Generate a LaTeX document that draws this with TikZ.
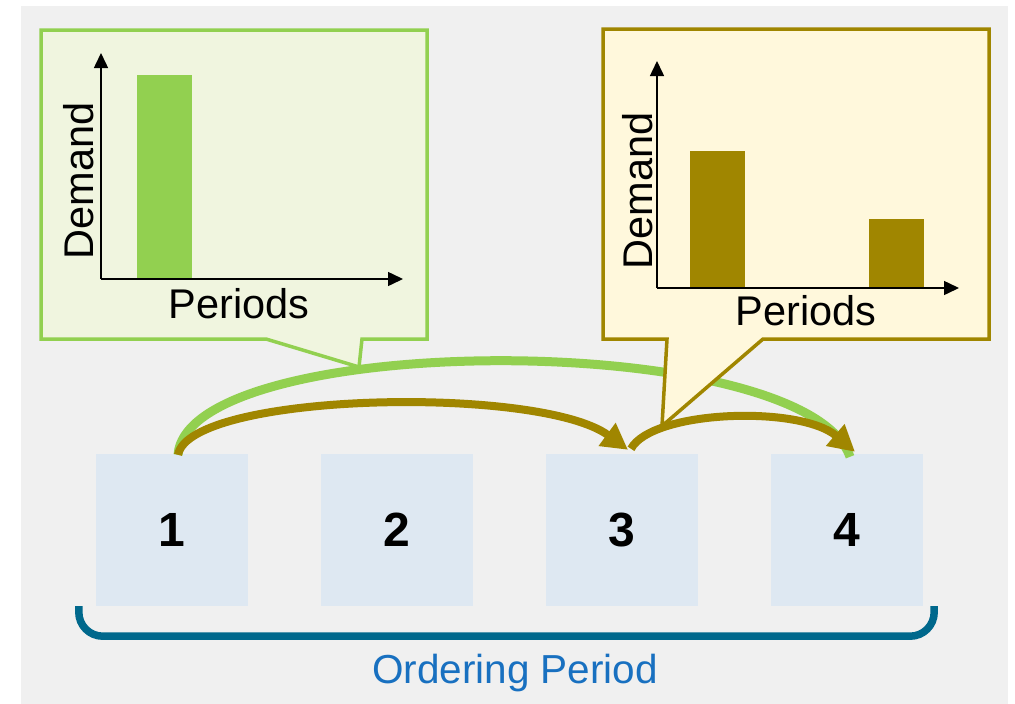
\documentclass[tikz,border=0pt]{standalone}
\usepackage{fontspec}
\setmainfont{Liberation Sans}
\usetikzlibrary{arrows.meta,calc}
\definecolor{bgc}{RGB}{240,240,240}
\definecolor{boxc}{RGB}{222,232,242}
\definecolor{grn}{RGB}{146,208,80}
\definecolor{grnfill}{RGB}{240,245,223}
\definecolor{olv}{RGB}{160,134,0}
\definecolor{ylwfill}{RGB}{255,248,220}
\definecolor{teal}{RGB}{0,104,140}
\definecolor{lblue}{RGB}{24,112,192}
\tikzset{
  pbox/.style={fill=boxc, minimum size=152pt, inner sep=0pt, font=\fontsize{48}{48}\selectfont\bfseries},
  gcall/.style={draw=grn, fill=grnfill, line width=3.5pt, line join=miter},
  ycall/.style={draw=olv, fill=ylwfill, line width=3.5pt, line join=miter},
  axisline/.style={line width=1.5pt, -{Triangle[length=15pt,width=14pt]}},
  lbl/.style={inner sep=0pt, font=\fontsize{41.5}{41.5}\selectfont},
  garc/.style={draw=grn, line width=9pt},
  oarc/.style={draw=olv, line width=8pt, -{Triangle[length=26pt,width=27pt]}},
  brk/.style={draw=teal, line width=7.5pt, rounded corners=24pt},
}
\begin{document}
\begin{tikzpicture}[x=1pt,y=-1pt]
\useasboundingbox (0,0) rectangle (1015,704);
\fill[bgc] (21,6) rectangle (1008,704);

% period boxes
\node[pbox] (b1) at (172,530) {1};
\node[pbox] (b2) at (397,530) {2};
\node[pbox] (b3) at (622,530) {3};
\node[pbox] (b4) at (847,530) {4};

% bracket and label
\coordinate (bl) at ($(b1.south west)+(-17,0)$);
\coordinate (br) at ($(b4.south east)+(11,0)$);
\draw[brk] (bl) -- ($(bl)+(0,30)$) -- ($(br)+(0,30)$) -- (br);
\node[inner sep=0pt, anchor=base, text=lblue, font=\fontsize{40.5}{40.5}\selectfont] (op) at (515,683) {Ordering Period};

% arc endpoints
\coordinate (s1) at ($(b1.north)+(6,1)$);
\coordinate (g4) at ($(b4.north)+(3,3)$);
\coordinate (e3) at ($(b3.north)+(6,-4)$);
\coordinate (s3) at ($(b3.north)+(9,-5)$);
\coordinate (e4) at ($(b4.north)+(8,-2)$);

% green arc (1 -> 4)
\draw[garc] (s1) .. controls (188,330) and (805,328) .. (g4);

% green callout
\draw[gcall] (41,30) -- (427,30) -- (427,339) -- (362,339) -- (359,367) -- (266,339) -- (41,339) -- cycle;
\coordinate (go) at (101,279);
\fill[grn] (137,75) rectangle (192,279);
\draw[axisline] (go) -- (101,53);
\draw[axisline] (go) -- (403,279);
\node[lbl, rotate=90] (gd) at (79,181) {Demand};
\node[lbl] (gp) at (239,304) {Periods};

% yellow callout
\draw[ycall] (603,29) -- (989,29) -- (989,339) -- (763,339) -- (662,426) -- (667,339) -- (603,339) -- cycle;
\coordinate (yo) at (657,288);
\fill[olv] (690,151) rectangle (745,288);
\fill[olv] (869,219) rectangle (924,288);
\draw[axisline] (yo) -- (657,61);
\draw[axisline] (yo) -- (959,288);
\node[lbl, rotate=90] (yd) at (638,191) {Demand};
\node[lbl] (yp) at (806,311) {Periods};

% olive arcs
\draw[oarc] (s1) .. controls (190,392) and (540,385) .. (e3);
\draw[oarc] (s3) .. controls (652,410) and (800,405) .. (e4);
\end{tikzpicture}
\end{document}
